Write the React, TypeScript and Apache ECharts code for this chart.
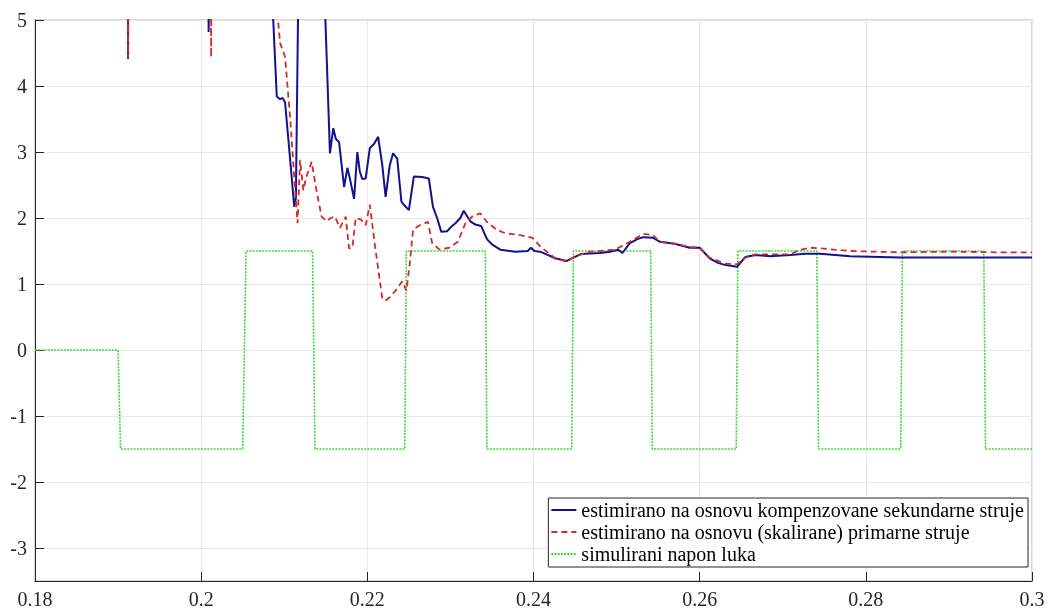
import React, { useEffect, useRef } from "react";
import * as echarts from "echarts";

const xTicks = { min: 0.18, max: 0.3, step: 0.02 };
const yRange = { min: -3.5, max: 5 };

const seriesNames = [
  "estimirano na osnovu kompenzovane sekundarne struje",
  "estimirano na osnovu (skalirane) primarne struje",
  "simulirani napon luka",
];

// blue: estimate from compensated secondary current (values above 5 are off-scale)
const blueX = [
  0.18, 0.1911, 0.1912, 0.1913, 0.2008, 0.2009, 0.2011, 0.2085, 0.2086, 0.2091, 0.2095, 0.2098,
  0.2101, 0.2107, 0.2112, 0.2114, 0.2117, 0.2119, 0.2147, 0.2149, 0.2155, 0.2159, 0.2162, 0.2166,
  0.2172, 0.2176, 0.2179, 0.2184, 0.2188, 0.2191, 0.2194, 0.2198, 0.2203, 0.2208, 0.2213, 0.2218,
  0.2222, 0.2227, 0.2231, 0.2236, 0.2241, 0.2244, 0.225, 0.2256, 0.2266, 0.2274, 0.2279, 0.2284,
  0.2289, 0.2296, 0.2302, 0.2306, 0.2312, 0.2316, 0.2324, 0.233, 0.2337, 0.2344, 0.235, 0.236,
  0.2378, 0.2393, 0.2397, 0.2401, 0.2408, 0.2417, 0.2426, 0.244, 0.245, 0.2456, 0.2462, 0.248,
  0.2492, 0.2502, 0.2507, 0.2516, 0.2525, 0.2532, 0.2544, 0.2552, 0.257, 0.2588, 0.26, 0.2612,
  0.2622, 0.263, 0.2645, 0.2655, 0.2667, 0.2685, 0.2709, 0.2727, 0.2745, 0.2781, 0.2817, 0.2841,
  0.2901, 0.2961, 0.3,
];
const blueY = [
  9, 9, 4.41, 9, 9, 4.82, 9, 9, 5.2, 3.84, 3.8, 3.82,
  3.75, 2.9, 2.17, 2.3, 5.5, 9, 9, 5.2, 2.98, 3.36, 3.2, 3.15,
  2.47, 2.76, 2.6, 2.29, 3.0, 2.7, 2.59, 2.6, 3.06, 3.12, 3.23, 2.8,
  2.32, 2.8, 2.98, 2.9, 2.25, 2.2, 2.12, 2.63, 2.62, 2.6, 2.17, 2.0,
  1.79, 1.8, 1.88, 1.92, 2.0, 2.11, 1.95, 1.9, 1.88, 1.68, 1.6, 1.52,
  1.49, 1.5, 1.55, 1.5, 1.49, 1.44, 1.39, 1.35, 1.41, 1.45, 1.46, 1.47,
  1.49, 1.52, 1.47, 1.62, 1.68, 1.71, 1.7, 1.64, 1.61, 1.55, 1.55, 1.39,
  1.32, 1.29, 1.26, 1.41, 1.44, 1.42, 1.44, 1.46, 1.46, 1.42, 1.41, 1.4,
  1.4, 1.4, 1.4,
];

// red: estimate from (scaled) primary current
const redX = [
  0.18, 0.1911, 0.1912, 0.1913, 0.2011, 0.2012, 0.2013, 0.2089, 0.2091, 0.2095, 0.2101, 0.2107,
  0.2112, 0.2116, 0.2119, 0.2123, 0.2126, 0.2133, 0.2139, 0.2145, 0.2151, 0.2156, 0.2161, 0.2167,
  0.2174, 0.2178, 0.2182, 0.2186, 0.2192, 0.2198, 0.2203, 0.2209, 0.2218, 0.2222, 0.2227, 0.2234,
  0.2242, 0.2247, 0.2251, 0.2255, 0.2263, 0.2273, 0.2278, 0.2287, 0.2299, 0.2309, 0.2318, 0.2327,
  0.2336, 0.2344, 0.2356, 0.2366, 0.2384, 0.2399, 0.2408, 0.2426, 0.244, 0.245, 0.2468, 0.2498,
  0.2516, 0.2532, 0.2544, 0.2552, 0.257, 0.2588, 0.26, 0.2612, 0.263, 0.2645, 0.2655, 0.2667,
  0.2709, 0.2721, 0.2733, 0.2745, 0.2781, 0.2841, 0.2901, 0.2961, 0.3,
];
const redY = [
  9, 9, 4.42, 9, 9, 4.44, 9, 9, 5.2, 4.65, 4.44, 3.53,
  2.63, 1.92, 2.88, 2.42, 2.6, 2.85, 2.4, 2.02, 1.95, 2.0, 2.02, 1.85,
  2.02, 1.54, 1.55, 2.0, 1.98, 1.89, 2.2, 1.6, 0.78, 0.75, 0.8, 0.9,
  1.04, 0.9, 1.3, 1.82, 1.89, 1.94, 1.62, 1.52, 1.55, 1.64, 1.92, 2.03,
  2.07, 1.94, 1.82, 1.77, 1.74, 1.7, 1.57, 1.39, 1.34, 1.42, 1.49, 1.52,
  1.64, 1.76, 1.74, 1.64, 1.61, 1.56, 1.55, 1.4, 1.31, 1.3, 1.4, 1.45,
  1.45, 1.52, 1.55, 1.54, 1.5, 1.48, 1.49, 1.48, 1.48,
];

// green: simulated arc voltage
const greenX = [
  0.18, 0.19, 0.1903, 0.205, 0.2054, 0.2134, 0.2137, 0.2245, 0.2247, 0.2342, 0.2344, 0.2446,
  0.2448, 0.2541, 0.2543, 0.2644, 0.2646, 0.2741, 0.2743, 0.2842, 0.2844, 0.2942, 0.2944, 0.3,
];
const greenY = [
  0, 0, -1.5, -1.5, 1.5, 1.5, -1.5, -1.5, 1.5, 1.5, -1.5, -1.5,
  1.5, 1.5, -1.5, -1.5, 1.5, 1.5, -1.5, -1.5, 1.5, 1.5, -1.5, -1.5,
];

const zip = (xs: number[], ys: number[]) => xs.map((x, i) => [x, ys[i]]);

const FONT = "Liberation Serif";
const DARK = "#262626";

export default function App() {
  const ref = useRef<HTMLDivElement>(null);
  useEffect(() => {
    if (!ref.current) return;
    const chart = echarts.init(ref.current, undefined, { renderer: "svg" });
    chart.setOption({
      animation: false,
      grid: {
        left: 35,
        right: 17,
        top: 20,
        bottom: 29,
        show: true,
        borderColor: "#d9d9d9",
        borderWidth: 2,
        backgroundColor: "transparent",
      },
      xAxis: {
        type: "value",
        min: xTicks.min,
        max: xTicks.max,
        interval: xTicks.step,
        axisLine: { onZero: false, lineStyle: { color: DARK, width: 1 } },
        axisTick: { show: true, inside: true, length: 9, lineStyle: { color: DARK } },
        axisLabel: { color: DARK, fontFamily: FONT, fontSize: 20 },
        splitLine: { show: true, lineStyle: { color: "#e8e8e8", width: 1 } },
      },
      yAxis: {
        type: "value",
        min: yRange.min,
        max: yRange.max,
        splitNumber: 8,
        axisLine: { show: true, onZero: false, lineStyle: { color: DARK, width: 1 } },
        axisTick: { show: true, inside: true, length: 9, lineStyle: { color: DARK } },
        axisLabel: { color: DARK, fontFamily: FONT, fontSize: 20, showMinLabel: false },
        splitLine: { show: true, lineStyle: { color: "#e8e8e8", width: 1 } },
      },
      legend: {
        orient: "vertical",
        right: 21,
        bottom: 43,
        itemWidth: 25,
        itemHeight: 10,
        itemGap: 2,
        padding: [2, 4, 3, 2],
        backgroundColor: "#fff",
        borderColor: DARK,
        borderWidth: 1,
        borderRadius: 0,
        itemStyle: { opacity: 0 },
        textStyle: { fontFamily: FONT, fontSize: 20, color: "#000" },
        data: seriesNames,
      },
      series: [
        {
          name: seriesNames[0],
          type: "line",
          data: zip(blueX, blueY),
          symbol: "none",
          lineStyle: { color: "#12128c", width: 2 },
          itemStyle: { color: "#12128c" },
          z: 3,
        },
        {
          name: seriesNames[1],
          type: "line",
          data: zip(redX, redY),
          symbol: "none",
          lineStyle: { color: "#d42a2a", width: 1.8, type: [6, 4] },
          itemStyle: { color: "#d42a2a" },
          z: 4,
        },
        {
          name: seriesNames[2],
          type: "line",
          data: zip(greenX, greenY),
          symbol: "none",
          lineStyle: { color: "#3ed63e", width: 1.6, type: [2, 1.2] },
          itemStyle: { color: "#3ed63e" },
          z: 2,
        },
      ],
    });
    return () => chart.dispose();
  }, []);
  return <div ref={ref} style={{ position: "fixed", left: 0, top: 0, width: 1049, height: 610 }} />;
}
